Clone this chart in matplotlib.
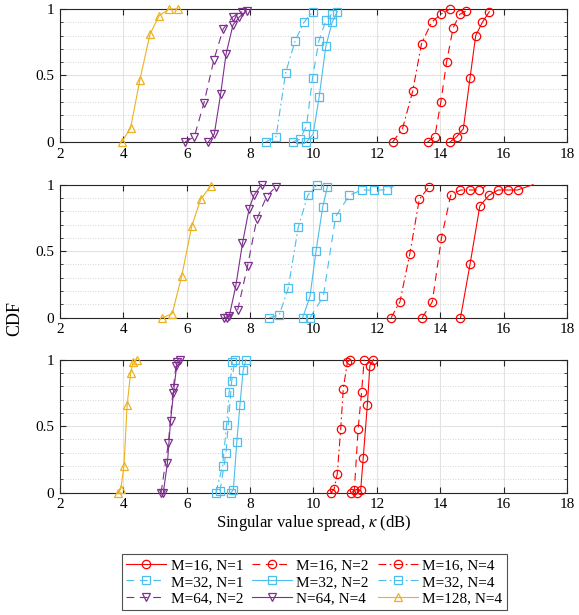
import matplotlib
matplotlib.use('Agg')
import matplotlib.pyplot as plt
from matplotlib.ticker import MultipleLocator

plt.rcParams['font.family'] = ['Liberation Serif', 'DejaVu Serif']
plt.rcParams['mathtext.fontset'] = 'stix'

# legend entries (order of the legend, read row by row, 3 columns)
labels = ['M=16, N=1', 'M=16, N=2', 'M=16, N=4',
          'M=32, N=1', 'M=32, N=2', 'M=32, N=4',
          'M=64, N=2', 'N=64, N=4', 'M=128, N=4']

# top panel
top_x = {
    'M=16, N=1': [14.31, 14.52, 14.73, 14.94, 15.12, 15.33, 15.55],
    'M=16, N=2': [13.60, 13.83, 14.02, 14.20, 14.41, 14.62, 14.81],
    'M=16, N=4': [12.50, 12.81, 13.13, 13.41, 13.73, 14.01, 14.31],
    'M=32, N=1': [9.34, 9.57, 9.78, 9.97, 10.17, 10.40, 10.57],
    'M=32, N=2': [9.78, 9.99, 10.18, 10.39, 10.59, 10.75],
    'M=32, N=4': [8.49, 8.82, 9.12, 9.42, 9.70, 9.99],
    'M=64, N=2': [5.95, 6.24, 6.54, 6.86, 7.15, 7.45, 7.75],
    'N=64, N=4': [6.68, 6.87, 7.07, 7.24, 7.46, 7.66, 7.89],
    'M=128, N=4': [3.95, 4.23, 4.52, 4.84, 5.13, 5.45, 5.73],
}
top_y = {
    'M=16, N=1': [0, 0.04, 0.10, 0.48, 0.80, 0.90, 0.98],
    'M=16, N=2': [0, 0.04, 0.30, 0.60, 0.86, 0.96, 0.985],
    'M=16, N=4': [0, 0.10, 0.38, 0.74, 0.90, 0.96, 1.0],
    'M=32, N=1': [0, 0.02, 0.12, 0.48, 0.76, 0.92, 0.96],
    'M=32, N=2': [0, 0.06, 0.34, 0.72, 0.90, 0.98],
    'M=32, N=4': [0, 0.04, 0.52, 0.76, 0.90, 0.98],
    'M=64, N=2': [0, 0.04, 0.29, 0.62, 0.85, 0.94, 0.98],
    'N=64, N=4': [0, 0.06, 0.36, 0.66, 0.88, 0.94, 0.985],
    'M=128, N=4': [0, 0.107, 0.466, 0.81, 0.95, 1.0, 1.0],
}

# middle panel
mid_x = {
    'M=16, N=1': [14.64, 14.94, 15.25, 15.54, 15.83, 16.15, 16.44, 16.93],
    'M=16, N=2': [13.43, 13.75, 14.04, 14.33, 14.64, 14.94, 15.23, 15.43],
    'M=16, N=4': [12.45, 12.73, 13.04, 13.34, 13.65],
    'M=32, N=1': [9.89, 10.31, 10.70, 11.13, 11.52, 11.91, 12.31, 12.54],
    'M=32, N=2': [9.66, 9.89, 10.08, 10.29, 10.44],
    'M=32, N=4': [8.60, 8.92, 9.20, 9.52, 9.82, 10.12],
    'M=64, N=2': [7.26, 7.61, 7.92, 8.21, 8.52, 8.81],
    'N=64, N=4': [7.18, 7.34, 7.55, 7.76, 7.97, 8.12, 8.36],
    'M=128, N=4': [5.23, 5.54, 5.84, 6.16, 6.44, 6.76],
}
mid_y = {
    'M=16, N=1': [0, 0.40, 0.84, 0.92, 0.96, 0.96, 0.96, 1.0],
    'M=16, N=2': [0, 0.12, 0.60, 0.92, 0.96, 0.96, 0.96, 0.99],
    'M=16, N=4': [0, 0.12, 0.48, 0.89, 0.985],
    'M=32, N=1': [0, 0.16, 0.76, 0.92, 0.96, 0.96, 0.96, 0.99],
    'M=32, N=2': [0, 0.16, 0.50, 0.83, 0.985],
    'M=32, N=4': [0, 0.02, 0.22, 0.68, 0.92, 1.0],
    'M=64, N=2': [0, 0.06, 0.39, 0.74, 0.91, 0.985],
    'N=64, N=4': [0, 0.01, 0.24, 0.56, 0.82, 0.92, 1.0],
    'M=128, N=4': [0, 0.03, 0.31, 0.69, 0.89, 0.99],
}
# series whose line goes on past the last marker
mid_tail = ['M=16, N=1', 'M=16, N=2', 'M=32, N=1']

# bottom panel
bot_x = {
    'M=16, N=1': [11.38, 11.49, 11.57, 11.70, 11.78, 11.89],
    'M=16, N=2': [11.20, 11.29, 11.41, 11.52, 11.60],
    'M=16, N=4': [10.54, 10.65, 10.75, 10.86, 10.94, 11.07, 11.15],
    'M=32, N=1': [7.05, 7.24, 7.42, 7.52],
    'M=32, N=2': [7.39, 7.47, 7.58, 7.68, 7.78, 7.87],
    'M=32, N=4': [6.92, 7.13, 7.26, 7.34, 7.44],
    'M=64, N=2': [5.19, 5.42, 5.56, 5.66, 5.79],
    'N=64, N=4': [5.26, 5.39, 5.49, 5.60, 5.70],
    'M=128, N=4': [3.84, 3.92, 4.02, 4.12, 4.23, 4.31, 4.42],
}
bot_y = {
    'M=16, N=1': [0, 0.02, 0.26, 0.66, 0.955, 1.0],
    'M=16, N=2': [0, 0.02, 0.48, 0.76, 1.0],
    'M=16, N=4': [0, 0.025, 0.14, 0.48, 0.78, 0.98, 1.0],
    'M=32, N=1': [0.01, 0.30, 0.84, 1.0],
    'M=32, N=2': [0, 0.02, 0.38, 0.66, 0.92, 1.0],
    'M=32, N=4': [0, 0.20, 0.51, 0.76, 0.985],
    'M=64, N=2': [0, 0.37, 0.75, 0.955, 1.0],
    'N=64, N=4': [0, 0.22, 0.54, 0.79, 0.985],
    'M=128, N=4': [0, 0.03, 0.20, 0.66, 0.90, 0.985, 1.0],
}

# colours and line styles (MATLAB-like)
red = '#FF0000'
blue = '#4DBEEE'
purple = '#7E2F8E'
yellow = '#EDB120'
dashed = (0, (7, 5))
dashdot = (0, (7, 3, 1.5, 3))
styles = {
    'M=16, N=1': (red, '-', 'o'),
    'M=16, N=2': (red, dashed, 'o'),
    'M=16, N=4': (red, dashdot, 'o'),
    'M=32, N=1': (blue, dashed, 's'),
    'M=32, N=2': (blue, '-', 's'),
    'M=32, N=4': (blue, dashdot, 's'),
    'M=64, N=2': (purple, dashed, 'v'),
    'N=64, N=4': (purple, '-', 'v'),
    'M=128, N=4': (yellow, '-', '^'),
}

fig = plt.figure(figsize=(5.79, 6.15), dpi=100)

left, width, height = 0.1036, 0.8756, 0.2163
bottoms = [0.7691, 0.4834, 0.1989]
panels = [(top_x, top_y, []), (mid_x, mid_y, mid_tail), (bot_x, bot_y, [])]

handles = {}
for i, (px, py, tail) in enumerate(panels):
    ax = fig.add_axes([left, bottoms[i], width, height])
    for lab in labels:
        c, ls, mk = styles[lab]
        n = len(px[lab])
        mev = list(range(n - 1)) if lab in tail else None
        h, = ax.plot(px[lab], py[lab], color=c, linestyle=ls, marker=mk,
                     markersize=6, markerfacecolor='none', markeredgewidth=0.9,
                     linewidth=0.8, markevery=mev, clip_on=False, zorder=3)
        if i == 0:
            handles[lab] = h
    ax.set_xlim(2, 18)
    ax.set_ylim(0, 1)
    ax.set_xticks(range(2, 19, 2))
    ax.set_yticks([0, 0.5, 1])
    ax.set_yticklabels(['0', '0.5', '1'])
    ax.yaxis.set_minor_locator(MultipleLocator(0.1))
    ax.grid(True, which='major', color='#E3E3E3', linewidth=0.8)
    ax.grid(True, which='minor', axis='y', color='#C8C8C8', linestyle=(0, (1, 2)),
            linewidth=0.6)
    ax.set_axisbelow(True)
    ax.tick_params(which='both', direction='in', top=True, right=True,
                   labelsize=11, color='#262626', pad=4)
    ax.tick_params(which='major', length=4)
    ax.tick_params(which='minor', length=2.5)
    for s in ax.spines.values():
        s.set_color('#262626')
        s.set_linewidth(0.8)
    if i == 2:
        ax.set_xlabel(r'Singular value spread, $\kappa$ (dB)', fontsize=12, labelpad=1)

fig.text(0.026, 1 - 318 / 615, 'CDF', rotation=90, fontsize=13,
         ha='center', va='center')

# matplotlib fills legend columns first, so reorder to get rows as in labels
ncol = 3
order = [labels[r * ncol + c] for c in range(ncol) for r in range(len(labels) // ncol)]
leg = fig.legend([handles[l] for l in order], order, ncol=ncol, loc='upper center',
                 bbox_to_anchor=(0.543, 0.0995), fontsize=11, frameon=True,
                 fancybox=False, edgecolor='#262626', handlelength=2.6,
                 handletextpad=0.3, columnspacing=0.6, labelspacing=0.2,
                 borderpad=0.3, borderaxespad=0)
leg.get_frame().set_linewidth(0.8)

fig.savefig('out.png', dpi=100)
